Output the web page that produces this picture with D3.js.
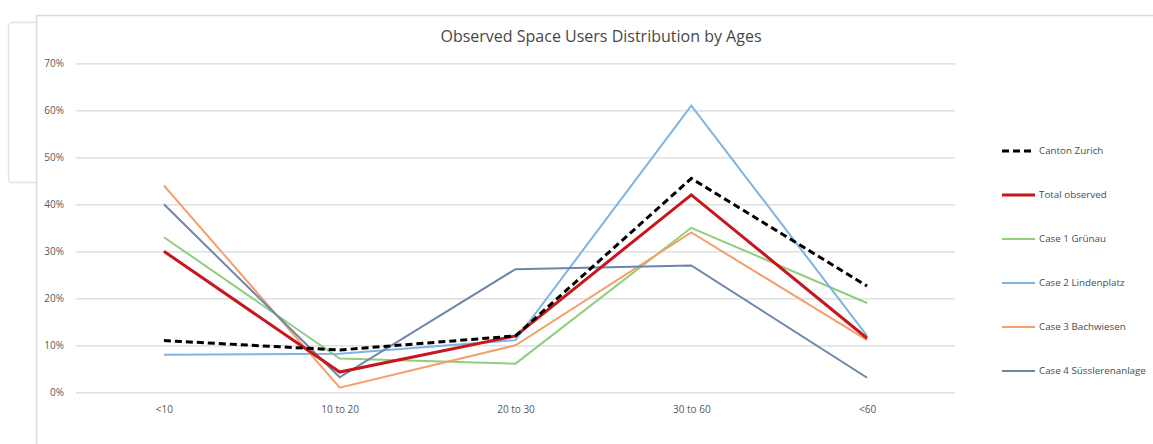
<!DOCTYPE html>
<html>
<head>
<meta charset="utf-8">
<script src="https://cdn.jsdelivr.net/npm/d3@7/dist/d3.min.js"></script>
<style>
  html, body { margin: 0; padding: 0; background: #fff; }
  svg { display: block; }
  text { font-family: "Open Sans", "Liberation Sans", sans-serif; fill: #595959; }
</style>
</head>
<body>
<svg id="chart" width="1153" height="444"></svg>
<script>
const title = "Observed Space Users Distribution by Ages";
const categories = ["<10", "10 to 20", "20 to 30", "30 to 60", "<60"];
const yTicks = [0, 0.1, 0.2, 0.3, 0.4, 0.5, 0.6, 0.7];

const seriesNames = ["Canton Zurich", "Total observed", "Case 1 Grünau", "Case 2 Lindenplatz", "Case 3 Bachwiesen", "Case 4 Süsslerenanlage"];
const cantonZurich   = [0.11, 0.09, 0.12, 0.455, 0.226];
const totalObserved  = [0.30, 0.043, 0.12, 0.42, 0.115];
const case1Grunau    = [0.33, 0.072, 0.061, 0.35, 0.19];
const case2Linden    = [0.08, 0.082, 0.111, 0.61, 0.12];
const case3Bach      = [0.44, 0.01, 0.10, 0.34, 0.111];
const case4Suessl    = [0.40, 0.032, 0.262, 0.27, 0.031];
const seriesValues = [cantonZurich, totalObserved, case1Grunau, case2Linden, case3Bach, case4Suessl];
const seriesColors = ["#000000", "#c8161d", "#8fce7c", "#7db4e3", "#f5a06c", "#6d86a8"];
const seriesWidths = [3, 3, 2, 2, 2, 2];
const seriesDash = ["7,4", null, null, null, null, null];

const svg = d3.select("#chart");

// background frames
svg.append("rect").attr("x", 8.5).attr("y", 22.5).attr("width", 40).attr("height", 160)
  .attr("rx", 4).attr("fill", "#fff").attr("stroke", "#e3e3e3").attr("stroke-width", 1.5);
svg.append("rect").attr("x", 36.5).attr("y", 15.5).attr("width", 1130).attr("height", 440)
  .attr("fill", "#fff").attr("stroke", "#dcdcdc").attr("stroke-width", 1.5);

const pLeft = 76, pRight = 955, pTop = 63.3, pBottom = 392.3;

const x = d3.scalePoint().domain(categories).range([pLeft, pRight]).padding(0.5);
const y = d3.scaleLinear().domain([0, 0.7]).range([pBottom, pTop]);

// gridlines
const yAxis = d3.axisLeft(y).tickValues(yTicks).tickFormat(d3.format(".0%")).tickSize(-(pRight - pLeft)).tickPadding(12);
const gy = svg.append("g").attr("transform", `translate(${pLeft},0)`).call(yAxis);
gy.select(".domain").remove();
gy.selectAll(".tick line").attr("stroke", "#d9d9d9").attr("stroke-width", 1.3);
gy.selectAll(".tick text").attr("font-size", 10).style("fill", "#595959");

const xAxis = d3.axisBottom(x).tickSize(0).tickPadding(14);
const gx = svg.append("g").attr("transform", `translate(0,${pBottom})`).call(xAxis);
gx.select(".domain").remove();
gx.selectAll(".tick text").attr("font-size", 10).style("fill", "#595959");

// title
svg.append("text").attr("x", 601).attr("y", 42).attr("text-anchor", "middle")
  .attr("font-size", 16).style("fill", "#474747").text(title);

// lines: draw in order so dashed ends up on top
const line = d3.line().x((d, i) => x(categories[i])).y(d => y(d));
const drawOrder = [2, 3, 4, 5, 1, 0];
drawOrder.forEach(k => {
  svg.append("path").datum(seriesValues[k])
    .attr("d", line)
    .attr("fill", "none")
    .attr("stroke", seriesColors[k])
    .attr("stroke-width", seriesWidths[k])
    .attr("stroke-dasharray", seriesDash[k])
    .attr("stroke-linejoin", "miter");
});

// legend
const legendY = d3.scalePoint().domain(seriesNames).range([151, 371]);
const lg = svg.append("g");
seriesNames.forEach((name, k) => {
  const ly = legendY(name);
  lg.append("line").attr("x1", 1002).attr("x2", 1035).attr("y1", ly).attr("y2", ly)
    .attr("stroke", seriesColors[k]).attr("stroke-width", seriesWidths[k])
    .attr("stroke-dasharray", seriesDash[k]);
  lg.append("text").attr("x", 1039).attr("y", ly).attr("dy", "0.35em")
    .attr("font-size", 9.8).style("fill", "#4a4a4a").text(name);
});
</script>
</body>
</html>
